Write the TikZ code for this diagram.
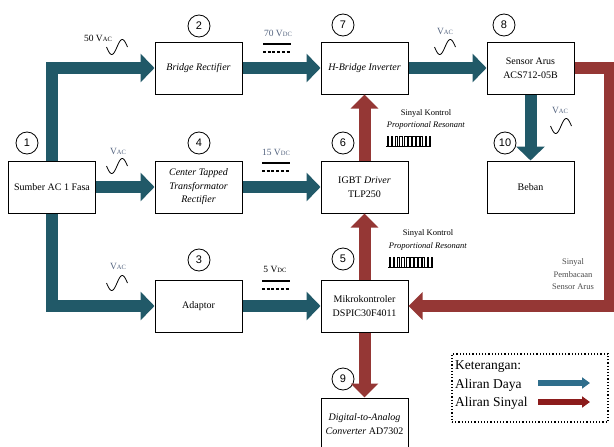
\documentclass[tikz,border=0pt]{standalone}
\usepackage{fontspec}
\setmainfont{Liberation Serif}
\newfontfamily\numfont{Liberation Sans}
\usetikzlibrary{arrows.meta}

\definecolor{daya}{HTML}{215968}
\definecolor{sinyal}{HTML}{953735}
\definecolor{slate}{HTML}{52627E}
\definecolor{dayalight}{HTML}{2F6E8C}
\definecolor{sinyaldark}{HTML}{8C1C1C}

\begin{document}
\begin{tikzpicture}[x=1pt,y=-1pt,font=\fontsize{10}{13.5}\selectfont]
  \useasboundingbox (0,0) rectangle (614,447);
  \tikzset{block/.style={draw,line width=1pt,fill=white,minimum width=87pt,minimum height=52pt,inner sep=1pt,align=center},
    num/.style={draw,circle,line width=0.8pt,minimum size=22pt,inner sep=0pt,font=\numfont\fontsize{11}{11}\selectfont},
    power/.style={daya,line width=12pt,line join=miter,-{Triangle[length=14pt,width=28pt]}},
    signal/.style={sinyal,line width=12pt,line join=miter,-{Triangle[length=14pt,width=27pt]}},
    volt/.style={font=\fontsize{9.5}{10}\selectfont},
    note/.style={font=\fontsize{8.5}{12.5}\selectfont,align=center},
    acwave/.pic={\draw[line width=0.8pt] plot[domain=0:360,samples=40,smooth] ({\x/360*21-10.5},{7.5*sin(\x)});},
    dcmark/.pic={\draw[line width=1.4pt] (-14,0) -- (14,0);
      \draw[line width=1.3pt,dash pattern=on 3pt off 1.7pt] (-14,8) -- (14,8);},
    pwm/.pic={\draw[line width=0.5pt] (-1,10) -- (44,10);
      \foreach \px/\pw in {0/0.8,4.2/1.2,8.4/1.8,12.6/2.6,16.8/3.2,21/3.2,25.2/3.2,29.4/2.6,33.6/1.8,37.8/1.2,42/0.8}
        \draw[line width=0.5pt] (\px,10) -- (\px,0) -- (\px+\pw,0) -- (\px+\pw,10);}}

  % Blocks of the system.
  \node[block] (sumber) at (52,187) {Sumber AC 1 Fasa};
  \node[block] (bridge) at (198.5,68) {\itshape Bridge Rectifier};
  \node[block] (ctr) at (198.5,187) {\itshape Center Tapped\\\itshape Transformator\\\itshape Rectifier};
  \node[block] (adaptor) at (198.5,306) {Adaptor};
  \node[block] (inverter) at (364.5,68) {\itshape H-Bridge Inverter};
  \node[block] (driver) at (364.5,187) {IGBT \textit{Driver}\\TLP250};
  \node[block] (mcu) at (364.5,306) {Mikrokontroler\\DSPIC30F4011};
  \node[block] (dac) at (364.5,424) {\textit{Digital-to-Analog}\\\textit{Converter} AD7302};
  \node[block] (sensor) at (530.5,68) {Sensor Arus\\ACS712-05B};
  \node[block] (beban) at (530.5,187) {Beban};

  % Block numbers.
  \node[num] (n1) at (27,143) {1};
  \node[num] (n2) at (199,26) {2};
  \node[num] (n4) at (199,143) {4};
  \node[num] (n3) at (199,260) {3};
  \node[num] (n7) at (343,25) {7};
  \node[num] (n8) at (504,25) {8};
  \node[num] (n6) at (343,143) {6};
  \node[num] (n10) at (505,143) {10};
  \node[num] (n5) at (343,259) {5};
  \node[num] (n9) at (343,379) {9};

  % Power flow.
  \draw[power] (sumber.north) |- (bridge.west);
  \draw[power] (sumber.east) -- (ctr.west);
  \draw[power] (sumber.south) |- (adaptor.west);
  \draw[power] (bridge.east) -- (inverter.west);
  \draw[power] (ctr.east) -- (driver.west);
  \draw[power] (adaptor.east) -- (mcu.west);
  \draw[power] (inverter.east) -- (sensor.west);
  \draw[power] (sensor.south) -- (beban.north);

  % Signal flow.
  \coordinate (fb) at (610,306);
  \draw[signal] (driver.north) -- (inverter.south);
  \draw[signal] (mcu.north) -- (driver.south);
  \draw[signal] (mcu.south) -- (dac.north);
  \draw[signal] (sensor.east) -| (fb) -- (mcu.east);

  % Voltage labels with AC / DC marks.
  \node[volt] (v50) at (98,38) {50 V{\fontsize{6.5}{7}\selectfont AC}};
  \pic at (117,47) {acwave};
  \node[volt,slate] (vac1) at (118,151) {V{\fontsize{6.5}{7}\selectfont AC}};
  \pic at (117,166) {acwave};
  \node[volt,slate] (vac2) at (118,266) {V{\fontsize{6.5}{7}\selectfont AC}};
  \pic at (117,283) {acwave};
  \node[volt,slate] (v70) at (278,33) {70 V{\fontsize{6.5}{7}\selectfont DC}};
  \pic at (277,44) {dcmark};
  \node[volt,slate] (v15) at (276,152) {15 V{\fontsize{6.5}{7}\selectfont DC}};
  \pic at (276,163) {dcmark};
  \node[volt] (v5) at (275,269) {5 V{\fontsize{6.5}{7}\selectfont DC}};
  \pic at (276,281) {dcmark};
  \node[volt,slate] (vac3) at (445,31) {V{\fontsize{6.5}{7}\selectfont AC}};
  \pic at (445,47) {acwave};
  \node[volt,slate] (vac4) at (560,110) {V{\fontsize{6.5}{7}\selectfont AC}};
  \pic at (561,126) {acwave};

  % Control signal notes.
  \node[note] (pr1) at (426,119.5) {Sinyal Kontrol\\\textit{Proportional Resonant}};
  \pic at (387,136) {pwm};
  \node[note] (pr2) at (428,240) {Sinyal Kontrol\\\textit{Proportional Resonant}};
  \pic at (389,257) {pwm};
  \node[note,text=black!70] (baca) at (573,274.5) {Sinyal\\Pembacaan\\Sensor Arus};

  % Legend.
  \node[draw,dotted,line width=1.2pt,minimum width=156pt,minimum height=68pt] (legend) at (530,388) {};
  \tikzset{legtext/.style={anchor=west,inner sep=0pt,font=\fontsize{13.5}{14}\selectfont}}
  \node[legtext] (ket) at (455,367) {Keterangan:};
  \node[legtext] (ld) at (455,385) {Aliran Daya};
  \node[legtext] (ls) at (455,403) {Aliran Sinyal};
  \coordinate (ld1) at (538,383);
  \coordinate (ld2) at (590,383);
  \coordinate (ls1) at (538,402);
  \coordinate (ls2) at (590,402);
  \draw[dayalight,line width=6pt,-{Triangle[length=8pt,width=11pt]}] (ld1) -- (ld2);
  \draw[sinyaldark,line width=6pt,-{Triangle[length=8pt,width=11pt]}] (ls1) -- (ls2);
\end{tikzpicture}
\end{document}
